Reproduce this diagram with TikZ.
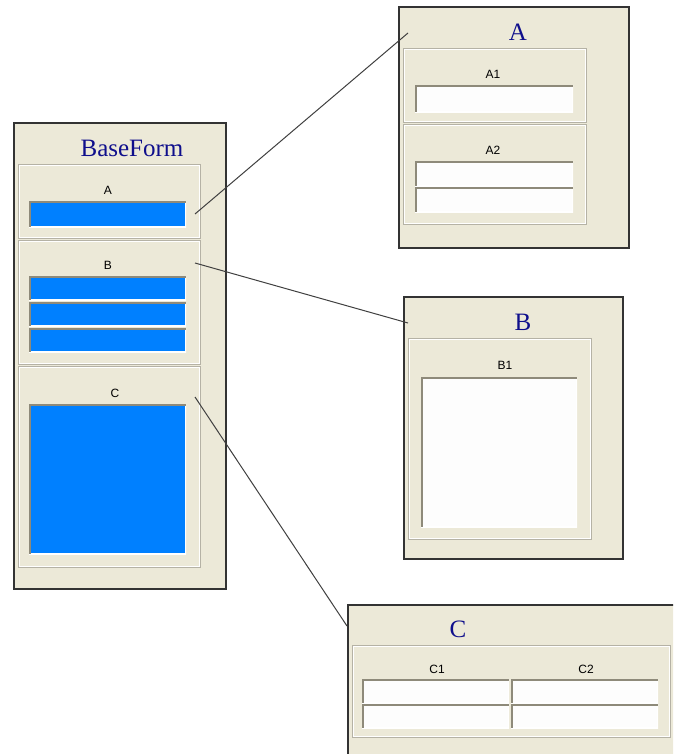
\documentclass[tikz,border=0pt]{standalone}
\usepackage{fontspec}
\setmainfont{Liberation Serif}
\newfontfamily\labfont{Liberation Sans}
\definecolor{bg}{HTML}{ECE9D8}
\definecolor{fblue}{HTML}{0080FF}
\definecolor{fwhite}{HTML}{FDFDFD}
\definecolor{ttl}{HTML}{0F0F8C}
\definecolor{edgec}{HTML}{333333}
\definecolor{grp}{HTML}{B5B2A5}
\definecolor{sunk}{HTML}{8E8A7A}
\definecolor{conn}{HTML}{404040}
\begin{document}
\begin{tikzpicture}[x=1pt,y=-1pt,
  panel/.style={anchor=north west, fill=bg, draw=edgec, line width=1.6pt, inner sep=0pt},
  grpbox/.style={anchor=north west, draw=grp, line width=1pt, inner sep=0pt,
    path picture={\draw[white,line width=1pt] ([shift={(1.4pt,1.4pt)}]path picture bounding box.south west) rectangle ([shift={(-1.4pt,-1.4pt)}]path picture bounding box.north east);}},
  fld/.style={anchor=north west, fill=#1, inner sep=0pt,
    path picture={\draw[white,line width=3pt] (path picture bounding box.south west) -| (path picture bounding box.north east);
                  \draw[sunk,line width=4pt] (path picture bounding box.south west) |- (path picture bounding box.north east);}},
  ttlt/.style={text=ttl, font=\fontsize{25}{25}\selectfont, inner sep=0pt},
  lbl/.style={font=\labfont\fontsize{12}{12}\selectfont, inner sep=0pt},
  link/.style={draw=conn, line width=1pt}
]
\useasboundingbox (0,0) rectangle (673,754);
\fill[white] (0,0) rectangle (673,754);
\begin{scope}
\clip (0,0) rectangle (673,754);
% ---------- BaseForm ----------
\node[panel, minimum width=212pt, minimum height=466pt] (base) at (13,122) {};
\node[ttlt] (tbase) at (132,148) {BaseForm};
\node[grpbox, minimum width=182pt, minimum height=74pt] (gA) at (18,164) {};
\node[lbl] (lA) at (108,190) {A};
\node[fld=fblue, minimum width=157pt, minimum height=26pt] (fA) at (29,201) {};
\node[grpbox, minimum width=182pt, minimum height=124pt] (gB) at (18,240) {};
\node[lbl] (lB) at (108,265) {B};
\node[fld=fblue, minimum width=157pt, minimum height=24pt] (fB1) at (29,276) {};
\node[fld=fblue, minimum width=157pt, minimum height=24pt] (fB2) at (29,302) {};
\node[fld=fblue, minimum width=157pt, minimum height=24pt] (fB3) at (29,328) {};
\node[grpbox, minimum width=182pt, minimum height=201pt] (gC) at (18,366) {};
\node[lbl] (lC) at (115,393) {C};
\node[fld=fblue, minimum width=157pt, minimum height=150pt] (fC) at (29,404) {};
% ---------- Panel A ----------
\node[panel, minimum width=230pt, minimum height=241pt] (pA) at (398,6) {};
\node[ttlt] (tA) at (518,32) {A};
\node[grpbox, minimum width=183pt, minimum height=74pt] (gA1) at (403,48) {};
\node[lbl] (lA1) at (493,74) {A1};
\node[fld=fwhite, minimum width=158pt, minimum height=27pt] (fA1) at (415,85) {};
\node[grpbox, minimum width=183pt, minimum height=100pt] (gA2) at (403,124) {};
\node[lbl] (lA2) at (493,150) {A2};
\node[fld=fwhite, minimum width=158pt, minimum height=25pt] (fA21) at (415,161) {};
\node[fld=fwhite, minimum width=158pt, minimum height=25pt] (fA22) at (415,187) {};
% ---------- Panel B ----------
\node[panel, minimum width=219pt, minimum height=262pt] (pB) at (403,296) {};
\node[ttlt] (tB) at (523,322) {B};
\node[grpbox, minimum width=183pt, minimum height=201pt] (gB1) at (408,338) {};
\node[lbl] (lB1) at (505,365) {B1};
\node[fld=fwhite, minimum width=156pt, minimum height=150pt] (fB1w) at (421,377) {};
% ---------- Panel C ----------
\node[panel, minimum width=360pt, minimum height=200pt] (pC) at (347,604) {};
\node[ttlt] (tC) at (458,629) {C};
\node[grpbox, minimum width=318pt, minimum height=92pt] (gC1) at (352,645) {};
\node[lbl] (lC1) at (437,669) {C1};
\node[lbl] (lC2) at (586,669) {C2};
\node[fld=fwhite, minimum width=147pt, minimum height=24pt] (fC11) at (362,679) {};
\node[fld=fwhite, minimum width=147pt, minimum height=24pt] (fC21) at (511,679) {};
\node[fld=fwhite, minimum width=147pt, minimum height=24pt] (fC12) at (362,704) {};
\node[fld=fwhite, minimum width=147pt, minimum height=24pt] (fC22) at (511,704) {};
% ---------- connectors ----------
\coordinate (sA) at (195,214);
\coordinate (eA) at (408,33);
\coordinate (sB) at (195,263);
\coordinate (eB) at (408,323);
\coordinate (sC) at (195,397);
\coordinate (eC) at (347,626);
\draw[link] (sA) -- (eA);
\draw[link] (sB) -- (eB);
\draw[link] (sC) -- (eC);
\end{scope}
\end{tikzpicture}
\end{document}
